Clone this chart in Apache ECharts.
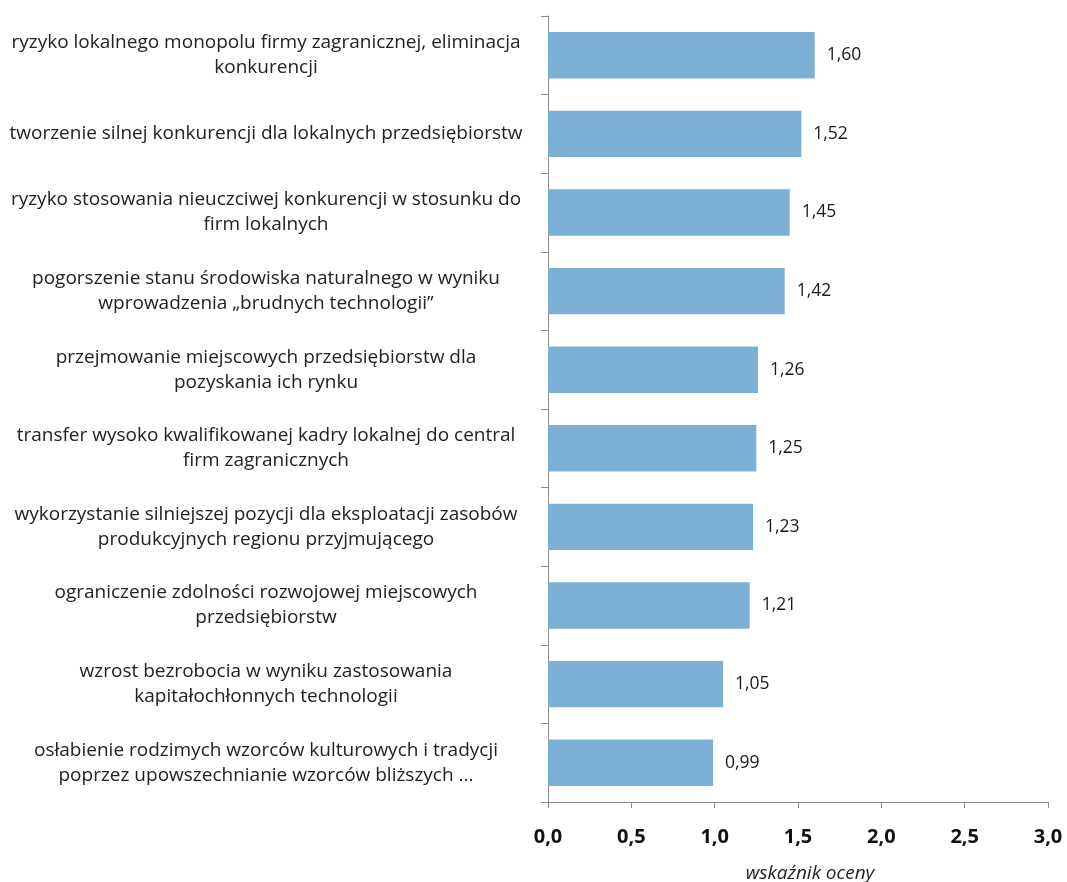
<!DOCTYPE html>
<html><head><meta charset="utf-8">
<script src="https://cdn.jsdelivr.net/npm/echarts@6/dist/echarts.min.js"></script>
<style>html,body{margin:0;padding:0;background:#fff}#c{width:1067px;height:882px}</style>
</head><body><div id="c"></div>
<script>
const categories = [
  "ryzyko lokalnego monopolu firmy zagranicznej, eliminacja\nkonkurencji",
  "tworzenie silnej konkurencji dla lokalnych przedsiębiorstw",
  "ryzyko stosowania nieuczciwej konkurencji w stosunku do\nfirm lokalnych",
  "pogorszenie stanu środowiska naturalnego w wyniku\nwprowadzenia „brudnych technologii”",
  "przejmowanie miejscowych przedsiębiorstw dla\npozyskania ich rynku",
  "transfer wysoko kwalifikowanej kadry lokalnej do central\nfirm zagranicznych",
  "wykorzystanie silniejszej pozycji dla eksploatacji zasobów\nprodukcyjnych regionu przyjmującego",
  "ograniczenie zdolności rozwojowej miejscowych\nprzedsiębiorstw",
  "wzrost bezrobocia w wyniku zastosowania\nkapitałochłonnych technologii",
  "osłabienie rodzimych wzorców kulturowych i tradycji\npoprzez upowszechnianie wzorców bliższych ..."
];
const values = [1.60, 1.52, 1.45, 1.42, 1.26, 1.25, 1.23, 1.21, 1.05, 0.99];
const axisName = "wskaźnik oceny";
const fmt = v => v.toFixed(2).replace('.', ',');

const chart = echarts.init(document.getElementById('c'), null, {renderer: 'canvas'});
chart.setOption({
  animation: false,
  textStyle: {fontFamily: '"Open Sans", sans-serif'},
  grid: {left: 548, right: 19, top: 16, bottom: 80, containLabel: false, outerBoundsMode: 'none'},
  xAxis: {
    type: 'value', min: 0, max: 3, interval: 0.5,
    splitLine: {show: false},
    axisLine: {show: true, lineStyle: {color: '#8c8c8c', width: 1}},
    axisTick: {show: true, length: 6, lineStyle: {color: '#8c8c8c'}},
    axisLabel: {
      margin: 25, fontSize: 20, fontWeight: 'bold', color: '#111',
      formatter: v => v.toFixed(1).replace('.', ',')
    },
    name: axisName, nameLocation: 'middle', nameGap: 62,
    nameTextStyle: {fontSize: 19, fontStyle: 'italic', color: '#222', padding: [0, 0, 0, 24]}
  },
  yAxis: {
    type: 'category', data: categories, inverse: true,
    axisLine: {show: true, lineStyle: {color: '#8c8c8c', width: 1}},
    axisTick: {show: true, length: 7, lineStyle: {color: '#8c8c8c'}},
    axisLabel: {
      margin: 22, color: '#222', fontSize: 19,
      formatter: v => v.split('\n').map(s => '{a|' + s + '}').join('\n'),
      rich: {a: {width: 520, align: 'center', fontSize: 19, lineHeight: 25, color: '#222'}}
    }
  },
  series: [{
    type: 'bar', data: values, barCategoryGap: '41%',
    itemStyle: {color: '#7bafd4'},
    label: {show: true, position: 'right', distance: 12, fontSize: 17.5, color: '#1a1a1a',
      formatter: p => fmt(p.value)}
  }]
});
</script></body></html>
